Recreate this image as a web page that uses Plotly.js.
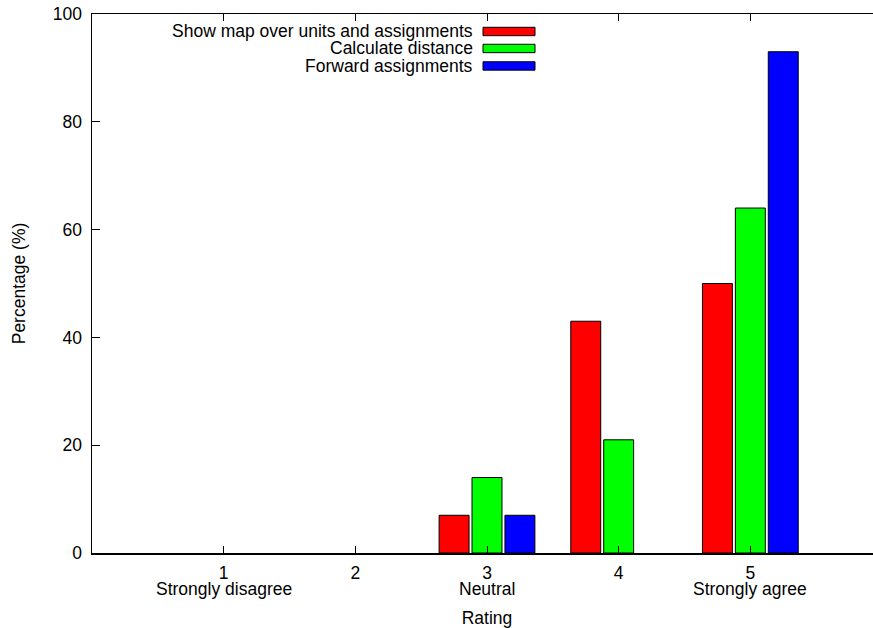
<!DOCTYPE html>
<html>
<head>
<meta charset="utf-8">
<script src="https://cdn.plot.ly/plotly-3.0.1.min.js"></script>
<style>
  html, body { margin: 0; padding: 0; background: #fff; overflow: hidden; }
  #chart { width: 882px; height: 628px; }
</style>
</head>
<body>
<div id="chart"></div>
<script>
// Survey ratings, percentage of respondents per rating
const ratings = [1, 2, 3, 4, 5];
const tickNumbers = ["1", "2", "3", "4", "5"];
const tickDescriptions = ["Strongly disagree", "", "Neutral", "", "Strongly agree"];

const seriesNames = ["Show map over units and assignments", "Calculate distance", "Forward assignments"];
const showMap = [0, 0, 7, 43, 50];
const calcDistance = [0, 0, 14, 21, 64];
const forwardAssign = [0, 0, 7, 0, 93];
const seriesColors = ["#ff0000", "#00ff00", "#0000ff"];

const FONT = "Liberation Sans, Arial, Helvetica, sans-serif";
const FS = 17.5;

// Empty categories are left blank rather than drawn as flat outlines
const seriesValues = [showMap, calcDistance, forwardAssign];
const traces = seriesValues.map((vals, i) => ({
  type: "bar",
  name: seriesNames[i],
  x: ratings,
  y: vals.map(v => (v === 0 ? null : v)),
  marker: { color: seriesColors[i], line: { color: "#000", width: 1 } },
  showlegend: false,
  hoverinfo: "x+y+name"
}));

// Plot area geometry (px) used to place the key in paper units
const L = 92, T = 14, W = 790, H = 539.5;
const px = x => (x - L) / W;
const py = y => (T + H - y) / H;

const shapes = [];
const annotations = [];

// Key: right-aligned labels followed by a colour swatch
const keyRows = [31.5, 48.5, 66];
seriesNames.forEach((name, i) => {
  const yc = keyRows[i];
  shapes.push({
    type: "rect", xref: "paper", yref: "paper",
    x0: px(483), x1: px(535), y0: py(yc + 4.2), y1: py(yc - 4.2),
    fillcolor: seriesColors[i], line: { color: "#000", width: 1 }
  });
  annotations.push({
    xref: "paper", yref: "paper", x: px(475), y: py(yc),
    xanchor: "right", yanchor: "middle", showarrow: false,
    text: name, font: { family: FONT, size: FS, color: "#000" }
  });
});

// Second line of the x tick labels
ratings.forEach((r, i) => {
  if (!tickDescriptions[i]) return;
  annotations.push({
    xref: "x", yref: "paper", x: r, y: 0,
    xanchor: "center", yanchor: "top", yshift: -24, showarrow: false,
    text: tickDescriptions[i], font: { family: FONT, size: FS, color: "#000" }
  });
});

const layout = {
  width: 882, height: 628,
  margin: { l: L, r: 0, t: T, b: 628 - T - H },
  paper_bgcolor: "#fff", plot_bgcolor: "#fff",
  font: { family: FONT, size: FS, color: "#000" },
  barmode: "group",
  bargap: 0.25,
  bargroupgap: 0.09,
  xaxis: {
    range: [0, 6],
    tickmode: "array", tickvals: ratings, ticktext: tickNumbers,
    ticks: "inside", ticklen: 7, tickwidth: 1, tickcolor: "#000",
    ticklabelstandoff: 3,
    showline: true, linecolor: "#000", linewidth: 1.5, mirror: "ticks",
    showgrid: false, zeroline: false, automargin: false,
    tickfont: { family: FONT, size: FS, color: "#000" },
    title: { text: "Rating", font: { family: FONT, size: FS, color: "#000" }, standoff: 31 }
  },
  yaxis: {
    range: [0, 100],
    tickvals: [0, 20, 40, 60, 80, 100],
    ticks: "inside", ticklen: 8, tickwidth: 1, tickcolor: "#000",
    ticklabelstandoff: 5,
    showline: true, linecolor: "#000", linewidth: 1.5, mirror: false,
    showgrid: false, zeroline: false, automargin: true,
    tickfont: { family: FONT, size: FS, color: "#000" },
    title: { text: "Percentage (%)", font: { family: FONT, size: FS, color: "#000" }, standoff: 22 }
  },
  shapes: shapes,
  annotations: annotations
};

Plotly.newPlot("chart", traces, layout, { displayModeBar: false, staticPlot: true });
</script>
</body>
</html>
